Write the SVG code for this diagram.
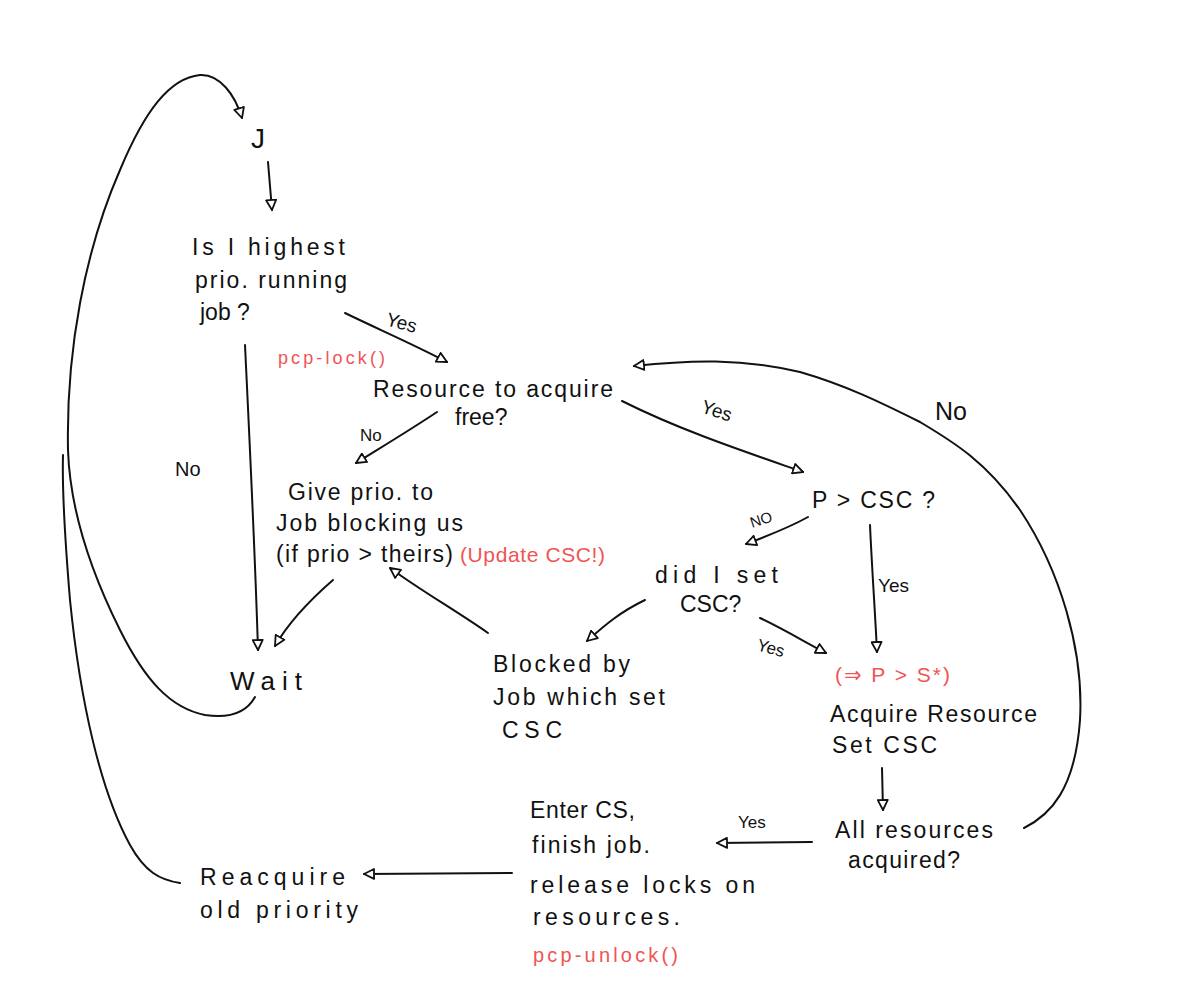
<svg xmlns="http://www.w3.org/2000/svg" width="1189" height="1000" viewBox="0 0 1189 1000">
<style>
.t{font-family:"Liberation Sans","DejaVu Sans",sans-serif;font-size:23px;fill:#111}
.s{font-size:19px}
.r{fill:#f05454;font-size:18px}
.c{fill:none;stroke:#111;stroke-width:2;stroke-linecap:round}
</style>
<defs>
<marker id="a" viewBox="0 0 12 12" refX="11" refY="6" markerWidth="12" markerHeight="12" markerUnits="userSpaceOnUse" orient="auto">
<path d="M1,1 L11,6 L1,11 Z" fill="#fff" stroke="#111" stroke-width="1.8" stroke-linejoin="round"/>
</marker>
</defs>
<rect width="1189" height="1000" fill="#fff"/>
<g id="connectors">
<path class="c" marker-end="url(#a)" d="M255,697 C245,715 225,718 205,715 C170,708 145,680 120,630 C90,570 70,510 68,450 C66,350 85,250 120,170 C145,110 170,78 200,75 C220,74 235,95 242,118"/>
<path class="c" d="M180,883 C160,880 145,872 130,845 C100,790 80,700 70,600 C65,540 62,490 63,455"/>
<path class="c" marker-end="url(#a)" d="M268,162 L272,210"/>
<path class="c" marker-end="url(#a)" d="M245,345 C250,450 255,550 258,650"/>
<path class="c" marker-end="url(#a)" d="M345,313 C380,330 415,345 447,362"/>
<path class="c" marker-end="url(#a)" d="M622,401 C680,430 740,450 803,472"/>
<path class="c" marker-end="url(#a)" d="M437,412 C410,430 385,445 356,463"/>
<path class="c" marker-end="url(#a)" d="M333,580 C310,600 290,620 275,646"/>
<path class="c" marker-end="url(#a)" d="M488,633 C455,610 420,590 390,568"/>
<path class="c" marker-end="url(#a)" d="M808,517 C790,527 770,535 746,544"/>
<path class="c" marker-end="url(#a)" d="M870,525 C872,570 875,610 877,652"/>
<path class="c" marker-end="url(#a)" d="M645,600 C620,612 605,625 587,641"/>
<path class="c" marker-end="url(#a)" d="M760,618 C785,630 805,642 826,653"/>
<path class="c" marker-end="url(#a)" d="M882,768 L883,810"/>
<path class="c" marker-end="url(#a)" d="M812,842 L717,843"/>
<path class="c" marker-end="url(#a)" d="M1024,828 C1050,815 1075,790 1080,720 C1084,650 1060,570 1020,510 C985,460 950,440 920,422 C880,402 845,385 800,372 C740,358 690,360 634,366"/>
<path class="c" marker-end="url(#a)" d="M512,873 L364,874"/>
</g>
<g id="n-j"><text class="t" x="251" y="148" style="font-size:28px">J</text></g>
<g id="n-highest">
<text class="t" x="192" y="255" textLength="153" lengthAdjust="spacing">Is I highest</text>
<text class="t" x="195" y="288" textLength="152" lengthAdjust="spacing">prio. running</text>
<text class="t" x="200" y="320">job ?</text>
</g>
<g id="l-yes1"><text class="t s" x="385" y="325" transform="rotate(15 385 325)">Yes</text></g>
<g id="l-pcplock"><text class="t r" x="278" y="364" textLength="107" lengthAdjust="spacing">pcp-lock()</text></g>
<g id="n-free">
<text class="t" x="373" y="397" textLength="240" lengthAdjust="spacing">Resource to acquire</text>
<text class="t" x="455" y="425">free?</text>
</g>
<g id="l-no1"><text class="t" x="360" y="441" style="font-size:17px">No</text></g>
<g id="l-no2"><text class="t" x="175" y="476" style="font-size:20px">No</text></g>
<g id="n-give">
<text class="t" x="288" y="500" textLength="145" lengthAdjust="spacing">Give prio. to</text>
<text class="t" x="276" y="531" textLength="187" lengthAdjust="spacing">Job blocking us</text>
<text class="t" x="276" y="562" textLength="177" lengthAdjust="spacing">(if prio &gt; theirs)</text>
<text class="t r" x="460" y="562" style="font-size:21px" textLength="145" lengthAdjust="spacing">(Update CSC!)</text>
</g>
<g id="n-wait"><text class="t" x="230" y="690" style="font-size:26px" textLength="72" lengthAdjust="spacing">Wait</text></g>
<g id="l-yes2"><text class="t s" x="700" y="412" transform="rotate(18 700 412)">Yes</text></g>
<g id="l-no3"><text class="t" x="935" y="420" style="font-size:25px">No</text></g>
<g id="n-pcsc"><text class="t" x="812" y="508" textLength="123" lengthAdjust="spacing">P &gt; CSC ?</text></g>
<g id="l-no4"><text class="t" x="752" y="528" style="font-size:15px" transform="rotate(-18 752 528)">NO</text></g>
<g id="n-didi">
<text class="t" x="655" y="583" textLength="123" lengthAdjust="spacing">did I set</text>
<text class="t" x="680" y="612">CSC?</text>
</g>
<g id="l-yes3"><text class="t s" x="878" y="592">Yes</text></g>
<g id="l-yes4"><text class="t" x="756" y="650" style="font-size:17px" transform="rotate(15 756 650)">Yes</text></g>
<g id="n-blocked">
<text class="t" x="493" y="672" textLength="137" lengthAdjust="spacing">Blocked by</text>
<text class="t" x="493" y="705" textLength="172" lengthAdjust="spacing">Job which set</text>
<text class="t" x="502" y="738" textLength="60" lengthAdjust="spacing">CSC</text>
</g>
<g id="n-acquire">
<text class="t r" x="835" y="682" style="font-size:21px" textLength="115" lengthAdjust="spacing">(⇒ P &gt; S*)</text>
<text class="t" x="830" y="722" textLength="207" lengthAdjust="spacing">Acquire Resource</text>
<text class="t" x="832" y="753" textLength="105" lengthAdjust="spacing">Set CSC</text>
</g>
<g id="n-all">
<text class="t" x="835" y="838" textLength="158" lengthAdjust="spacing">All resources</text>
<text class="t" x="848" y="868" textLength="112" lengthAdjust="spacing">acquired?</text>
</g>
<g id="l-yes5"><text class="t" x="738" y="828" style="font-size:17px">Yes</text></g>
<g id="n-enter">
<text class="t" x="530" y="818" textLength="105" lengthAdjust="spacing">Enter CS,</text>
<text class="t" x="532" y="853" textLength="118" lengthAdjust="spacing">finish job.</text>
<text class="t" x="530" y="893" textLength="225" lengthAdjust="spacing">release locks on</text>
<text class="t" x="533" y="925" textLength="147" lengthAdjust="spacing">resources.</text>
<text class="t r" x="533" y="962" style="font-size:20px" textLength="145" lengthAdjust="spacing">pcp-unlock()</text>
</g>
<g id="n-reacquire">
<text class="t" x="200" y="885" textLength="145" lengthAdjust="spacing">Reacquire</text>
<text class="t" x="200" y="918" textLength="158" lengthAdjust="spacing">old priority</text>
</g>
</svg>
